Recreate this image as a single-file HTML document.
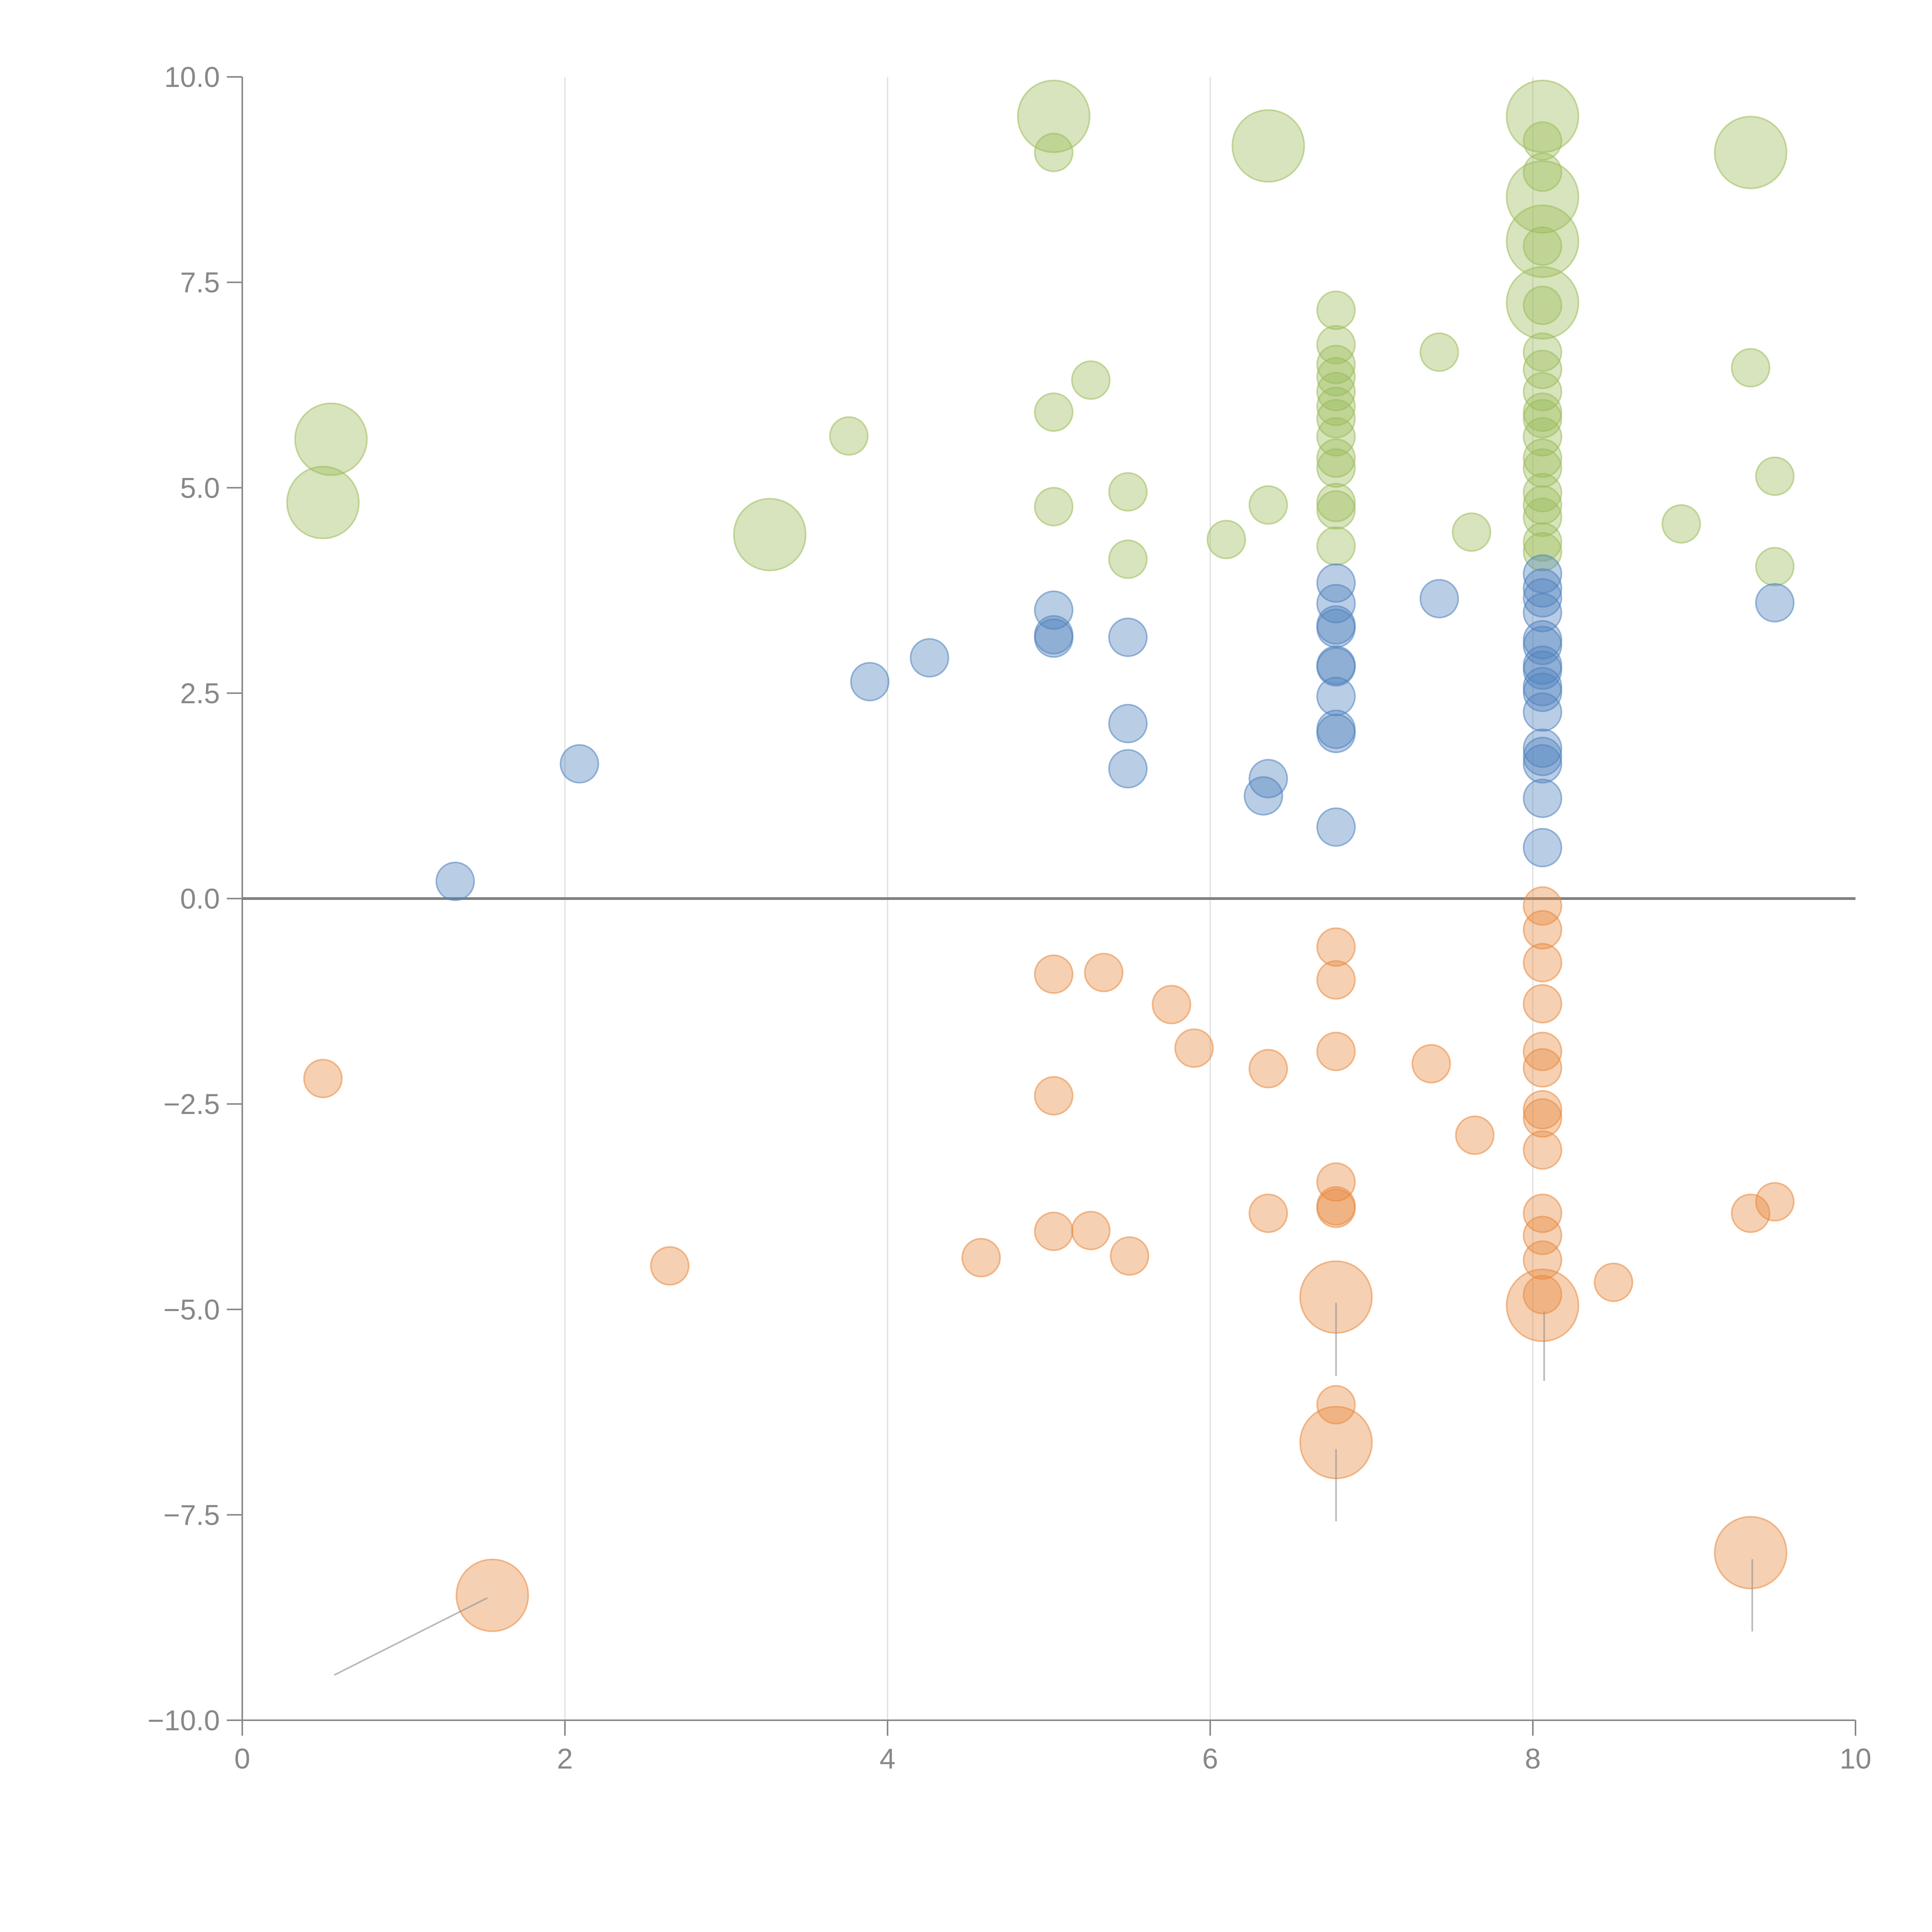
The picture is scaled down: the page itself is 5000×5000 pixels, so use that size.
<!DOCTYPE html>
<html><head><meta charset="utf-8"><style>
html,body{margin:0;padding:0;background:#fff;}
svg{display:block;}
text{font-family:"Liberation Sans",Arial,sans-serif;fill:#888;}
</style></head><body>
<svg id="chart" width="5000" height="5000" viewBox="0 0 5000 5000" xmlns="http://www.w3.org/2000/svg">
<g id="grid"></g>
<g id="axes"></g>
<g id="marks"></g>
<g id="ann"></g>
</svg>
<script>
const xTicks=[0,2,4,6,8,10];
const yTicks=[-10,-7.5,-5,-2.5,0,2.5,5,7.5,10];
const yTickLabels=["\u221210.0","\u22127.5","\u22125.0","\u22122.5","0.0","2.5","5.0","7.5","10.0"];
const greenX=[5.03,6.36,8.06,8.06,8.06,8.06,9.35,0.55,0.50,3.27,
5.03,6.78,6.78,6.78,6.78,6.78,6.78,6.78,6.78,6.78,6.78,6.78,6.78,6.78,7.42,5.26,5.03,3.76,5.03,5.49,5.49,6.10,6.36,7.62,
8.06,8.06,8.06,8.06,8.06,8.06,8.06,8.06,8.06,8.06,8.06,8.06,8.06,8.06,8.06,8.06,8.06,9.35,9.50,9.50,8.92];
const greenY=[9.52,9.16,9.52,8.54,8.00,7.25,9.08,5.59,4.82,4.43,
9.08,7.16,6.74,6.50,6.35,6.17,5.99,5.84,5.62,5.36,5.24,4.82,4.73,4.29,6.65,6.31,5.92,5.63,4.77,4.95,4.13,4.37,4.79,4.46,
9.22,8.84,7.94,7.22,6.65,6.44,6.17,5.92,5.84,5.62,5.36,5.24,4.94,4.79,4.64,4.34,4.22,6.46,5.14,4.04,4.56];
const greenS=[3,3,3,3,3,3,3,3,3,3,1,1,1,1,1,1,1,1,1,1,1,1,1,1,1,1,1,1,1,1,1,1,1,1,1,1,1,1,1,1,1,1,1,1,1,1,1,1,1,1,1,1,1,1,1];
const blueX=[1.32,2.09,3.89,4.26,5.03,5.03,5.03,5.49,5.49,5.49,6.33,6.36,6.78,6.78,6.78,6.78,6.78,6.78,6.78,6.78,6.78,6.78,7.42,
8.06,8.06,8.06,8.06,8.06,8.06,8.06,8.06,8.06,8.06,8.06,8.06,8.06,8.06,8.06,8.06,9.50];
const blueY=[0.21,1.64,2.64,2.93,3.51,3.21,3.17,3.18,2.13,1.58,1.25,1.46,3.84,3.59,3.33,3.29,2.84,2.82,2.46,2.06,2.01,0.87,3.65,
3.95,3.78,3.66,3.48,3.15,3.08,2.84,2.78,2.58,2.51,2.27,1.83,1.73,1.64,1.22,0.62,3.60];
const orangeX=[0.50,2.65,4.58,5.03,5.03,5.03,5.26,5.34,5.50,5.76,5.90,6.36,6.36,6.78,6.78,6.78,6.78,6.78,6.78,6.78,7.37,7.64,
8.06,8.06,8.06,8.06,8.06,8.06,8.06,8.06,8.06,8.06,8.06,8.06,8.06,8.50,9.35,9.50,
1.55,6.78,6.78,8.06,9.35];
const orangeY=[-2.19,-4.47,-4.37,-0.92,-2.40,-4.05,-4.04,-0.90,-4.35,-1.29,-1.82,-2.07,-3.83,-0.59,-0.99,-1.86,-3.45,-3.74,-3.77,-6.16,-2.01,-2.88,
-0.09,-0.38,-0.78,-1.28,-1.86,-2.06,-2.57,-2.67,-3.06,-3.83,-4.10,-4.40,-4.82,-4.67,-3.83,-3.69,
-8.48,-4.85,-6.62,-4.95,-7.96];
const orangeS=[1,1,1,1,1,1,1,1,1,1,1,1,1,1,1,1,1,1,1,1,1,1,1,1,1,1,1,1,1,1,1,1,1,1,1,1,1,1,3,3,3,3,3];
const leaderX1=[0.57,6.78,6.78,8.07,9.36];
const leaderY1=[-9.45,-4.92,-6.70,-5.02,-8.04];
const leaderX2=[1.52,6.78,6.78,8.07,9.36];
const leaderY2=[-8.51,-5.81,-7.58,-5.87,-8.92];

const NS="http://www.w3.org/2000/svg";
const X0=627,X1=4802,Y0=4452,Y1=199;
function sx(v){return X0+(v-0)/(10-0)*(X1-X0);}
function sy(v){return Y0-(v+10)/20*(Y0-Y1);}
function rad(s){return s>=3?93:49;}
function mk(tag,attrs,parent){const e=document.createElementNS(NS,tag);for(const k in attrs)e.setAttribute(k,attrs[k]);parent.appendChild(e);return e;}
const grid=document.getElementById('grid'),axes=document.getElementById('axes'),marks=document.getElementById('marks'),ann=document.getElementById('ann');

xTicks.forEach(t=>{
  if(t>0&&t<10){const g=mk('line',{x1:sx(t),x2:sx(t),y1:Y1,y2:Y0,stroke:'#dedede','stroke-width':3},grid);
  
  }
  const tk=mk('line',{x1:sx(t),x2:sx(t),y1:Y0,y2:Y0+40,stroke:'#888','stroke-width':4},axes);
  
  
  const lb=mk('text',{x:sx(t),y:Y0+125,'text-anchor':'middle','font-size':74},axes);
  lb.textContent=String(t);
  
  
});
yTicks.forEach((t,i)=>{
  const tk=mk('line',{x1:X0-40,x2:X0,y1:sy(t),y2:sy(t),stroke:'#888','stroke-width':4},axes);
  
  
  const lb=mk('text',{x:X0-58,y:sy(t)+26,'text-anchor':'end','font-size':74},axes);
  lb.textContent=yTickLabels[i];
  
  
});
const ya=mk('line',{x1:X0,x2:X0,y1:Y1,y2:Y0,stroke:'#888','stroke-width':4},axes);


const xa=mk('line',{x1:X0,x2:X1,y1:Y0,y2:Y0,stroke:'#888','stroke-width':4},axes);



function series(xs,ys,ss,fill,stroke,name){
  xs.forEach((x,i)=>{
    const c=mk('circle',{cx:sx(x),cy:sy(ys[i]),r:rad(ss?ss[i]:1),fill:fill,'fill-opacity':0.4,stroke:stroke,'stroke-opacity':0.55,'stroke-width':4},marks);
    
    
  });
}
series(greenX,greenY,greenS,'#9bbb59','#9bbb59','bubble-green');
series(blueX,blueY,null,'#4f81bd','#4f81bd','bubble-blue');
series(orangeX,orangeY,orangeS,'#e8893e','#e8893e','bubble-orange');

const z=mk('line',{x1:X0,x2:X1,y1:sy(0),y2:sy(0),stroke:'#808080','stroke-width':7},axes);



leaderX1.forEach((x,i)=>{
  const l=mk('line',{x1:sx(x),y1:sy(leaderY1[i]),x2:sx(leaderX2[i]),y2:sy(leaderY2[i]),stroke:'#999','stroke-opacity':0.7,'stroke-width':4},ann);
  
  
});
</script>
</body></html>
